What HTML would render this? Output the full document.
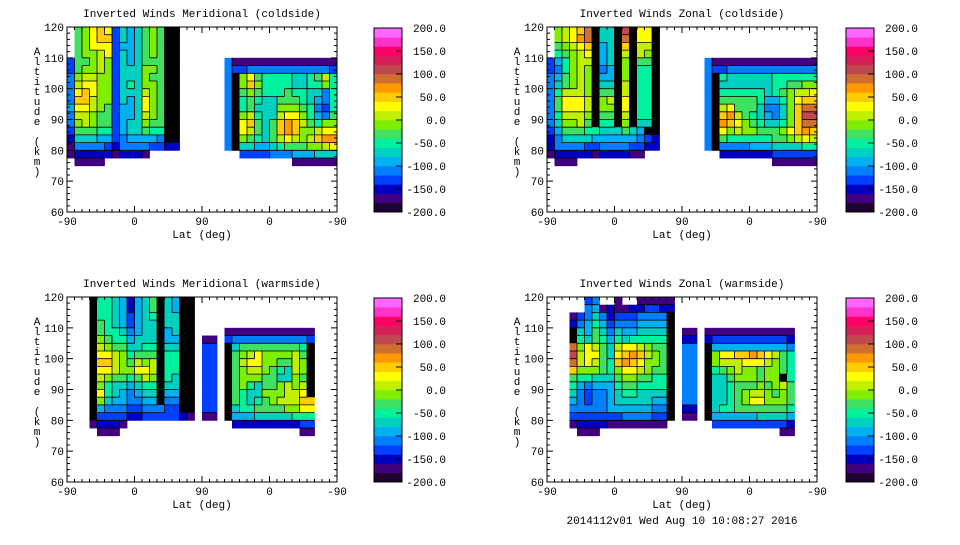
<!DOCTYPE html>
<html><head><meta charset="utf-8"><style>
body{margin:0;background:#fff;}
svg text{font-family:"Liberation Mono","DejaVu Sans Mono",monospace;font-size:11px;fill:#000;}
</style></head><body>
<svg id="root" width="960" height="540" viewBox="0 0 960 540" xmlns="http://www.w3.org/2000/svg"></svg>
<script>
// ---- data: altitude rows 120..75 km in 2.5 km steps, lat columns of 10 units over 0..360 ----
const levelChars = "0123456789abcdefghij";
const colorbarValues = [-200,-150,-100,-50,0,50,100,150,200];
const xTickLabels = ["-90","0","90","0","-90"];
const xTickUnits = [0,90,180,270,360];
const yTickLabels = [60,70,80,90,100,110,120];
const titles = ["Inverted Winds Meridional (coldside)","Inverted Winds Zonal (coldside)","Inverted Winds Meridional (warmside)","Inverted Winds Zonal (warmside)"];
const E6="......", E15="...............", E14="..............";
const merCold = [
".89bcb3656898kk"+E6+"."+E14,
".89bcc3656898kk"+E6+"."+E14,
".89bbb3556898kk"+E6+"."+E14,
".899ab3656898kk"+E6+"."+E14,
"3889a93656888kk"+E6+"4"+"11111111111111",
"3899a93666998kk"+E6+"4"+"33444444444443",
"49aa993666988kk"+E6+"4"+"k9b877776678a7",
"4abb993676998kk"+E6+"4"+"k9c97777667797",
"4bcb993666a98kk"+E6+"4"+"k8987778776647",
"4cca993656b98kk"+E6+"4"+"k7876688876547",
"5bba983556b98kk"+E6+"4"+"k7866699987437",
"4aa9883556a98kk"+E6+"4"+"k9a766abb97548",
"49a9883566988kk"+E6+"4"+"kbc868cdca8799",
"3888773566877kk"+E6+"4"+"kba868cdc99abb",
"2666553455554kk"+E6+"4"+"k98768aba9acdd",
"144443244443322"+E6+"4"+"k66556788899ab",
"12222212221...."+E6+"."+".3333444555666",
".1111.........."+E6+"."+"........111111"
];
const zonCold = [
".9abcek66kfkbbk"+E6+"."+E14,
".9abdek66kekbbk"+E6+"."+E14,
".89abck56kckaak"+E6+"."+E14,
".789abk56kaka9k"+E6+"."+E14,
"3579aak56k9k88k"+E6+"4"+"11111111111111",
"3479a9k45k9k77k"+E6+"4"+"33444444444444",
"4589a9k55k9k77k"+E6+"4"+"k7666666777777",
"4689a9k66kak77k"+E6+"4"+"k6666666778899",
"47aaa9k88kak77k"+E6+"4"+"k7777776789aab",
"48bbbak9akbk77k"+E6+"4"+"k8888875579bcc",
"48bbbak99kbk77k"+E6+"4"+"kab88864469cee",
"47aaa9k88kak77k"+E6+"4"+"kcda8765469cff",
"4699a8k77k9k66k"+E6+"4"+"kdcb9876679cee",
"3588877666865kk"+E6+"4"+"kb9a998889bcdc",
"246666555555432"+E6+"4"+"k8777777889aba",
"244443344443322"+E6+"4"+"k4444555666677",
"1222221222211.."+E6+"."+".2222222333333",
".111..........."+E6+"."+"........111111"
];
const merWarm = [
"..."+"k77652568k65kk"+"."+".."+"."+"............"+"...",
"..."+"k77652568k65kk"+"."+".."+"."+"............"+"...",
"..."+"k77653567k66kk"+"."+".."+"."+"............"+"...",
"..."+"k87653566k66kk"+"."+".."+"."+"............"+"...",
"..."+"k87764566k56kk"+"."+".."+"."+"111111111111"+"...",
"..."+"k98775666k55kk"+"."+"11"+"."+"344444444443"+"...",
"..."+"ka9886677k66kk"+"."+"33"+"."+"k6888888887k"+"...",
"..."+"kbba97888k77kk"+"."+"33"+"."+"k89ab9999a8k"+"...",
"..."+"kcca98a9ak77kk"+"."+"33"+"."+"k8abb9988a9k"+"...",
"..."+"kbba99bbak77kk"+"."+"33"+"."+"k89aa9876a9k"+"...",
"..."+"ka98878a9k76kk"+"."+"33"+"."+"k8999886698k"+"...",
"..."+"k97665677k66kk"+"."+"33"+"."+"k8976889a9ak"+"...",
"..."+"kb7654566k55kk"+"."+"33"+"."+"k8766999aabk"+"...",
"..."+"k96554455k44kk"+"."+"33"+"."+"k876789aaacc"+"...",
"..."+"k54443344433kk"+"."+"33"+"."+"k677888899bb"+"...",
"..."+"k3333223333321"+"."+"11"+"."+"k55566666777"+"...",
"..."+"12221........."+"."+".."+"."+".22222222233"+"...",
"..."+".111.........."+"."+".."+"."+"..........11"+"..."
];
const zonWarm = [
"..."+"..34..1..11111"+"."+".."+"."+"............"+"...",
"..."+"..451211223322"+"."+".."+"."+"............"+"...",
"..."+"1346423334444k"+"."+".."+"."+"............"+"...",
"..."+"2457534445555k"+"."+".."+"."+"............"+"...",
"..."+"k658646556666k"+"."+"11"+"."+"111111111111"+"...",
"..."+"k768757677777k"+"."+"22"+"."+"233333333332"+"...",
"..."+"e9ba86abba988k"+"."+"44"+"."+"k55555555554"+"...",
"..."+"fabb86bcdca98k"+"."+"44"+"."+"k9bbccdcba87"+"...",
"..."+"eaba87cdcb998k"+"."+"44"+"."+"k9aaabbba987"+"...",
"..."+"c999879bba988k"+"."+"44"+"."+"k789a9989987"+"...",
"..."+"8776668998877k"+"."+"44"+"."+"k668999899k7"+"...",
"..."+"7545557887777k"+"."+"44"+"."+"k667888989a8"+"...",
"..."+"6434456776666k"+"."+"44"+"."+"k66789aa9898"+"...",
"..."+"5434456666655k"+"."+"44"+"."+"k66789bb9998"+"...",
"..."+"4444455555544k"+"."+"22"+"."+"k67788888887"+"...",
"..."+"3333333444433k"+"."+"11"+"."+"k55555566665"+"...",
"..."+"1222211111111."+"."+".."+"."+".33333333332"+"...",
"..."+".111.........."+"."+".."+"."+"..........11"+"..."
];
const panelGrids = [merCold, zonCold, merWarm, zonWarm];

// ---- styling / layout ----
const palette = ["#200030","#400080","#0000c0","#0040ff","#0080ff","#00b0f0","#00d0c0","#00f0a0","#40e060","#80ee00","#c0f000","#ffff00","#ffcc00","#ff9900","#d07030","#c04850","#d82058","#ff0066","#ff33cc","#ff66ff"];
const NS="http://www.w3.org/2000/svg";
const root=document.getElementById('root');
function mk(tag,attrs,parent){const e=document.createElementNS(NS,tag);for(const k in attrs)e.setAttribute(k,attrs[k]);(parent||root).appendChild(e);return e;}
function colorFor(v){let i=Math.floor((v+200)/20);i=Math.max(0,Math.min(19,i));return palette[i];}
const panels=[{x0:67,y0:27,cb:374},{x0:547,y0:27,cb:846},{x0:67,y0:297,cb:374},{x0:547,y0:297,cb:846}];
const PW=270, PH=185;

panels.forEach((p,pi)=>{
  const g=mk('g',{});
  
  
  const xs=u=>p.x0+u*PW/360;
  const ys=a=>p.y0+(120-a)*PH/60;
  const grid=panelGrids[pi];
  const vals=grid.map(r=>r.split('').map(c=>c==='.'?null:(c==='k'?'k':-190+20*levelChars.indexOf(c))));
  const cells=mk('g',{},g);
  
  
  vals.forEach((row,r)=>{
    row.forEach((v,c)=>{
      if(v===null)return;
      const x=xs(c*10),y=ys(120-r*2.5);
      const rc=mk('rect',{x:x.toFixed(2),y:y.toFixed(2),width:(xs(10)-xs(0)+0.4).toFixed(2),height:(ys(117.5)-ys(120)+0.4).toFixed(2),fill:v==='k'?'#000':colorFor(v)},cells);
      
      
    });
  });
  // contour lines between differing cells
  let d='';
  vals.forEach((row,r)=>{
    row.forEach((v,c)=>{
      if(v===null||v==='k')return;
      const x=xs(c*10),y=ys(120-r*2.5),x2=xs(c*10+10),y2=ys(120-r*2.5-2.5);
      const rt=row[c+1]; if(rt!==undefined&&rt!==null&&rt!==v) d+=`M${x2.toFixed(1)} ${y.toFixed(1)}V${y2.toFixed(1)}`;
      const bt=vals[r+1]?vals[r+1][c]:undefined; if(bt!==undefined&&bt!==null&&bt!==v) d+=`M${x.toFixed(1)} ${y2.toFixed(1)}H${x2.toFixed(1)}`;
    });
  });
  const cl=mk('path',{d:d,stroke:'#000','stroke-width':'0.8',fill:'none'},g);
  
  
  // frame
  const fr=mk('rect',{x:p.x0,y:p.y0,width:PW,height:PH,fill:'none',stroke:'#000','stroke-width':'1'},g);
  
  
  // ticks
  let td='';
  for(let a=60;a<=120;a+=2){const y=ys(a),len=(a%10===0)?6:3;td+=`M${p.x0} ${y}h${len}M${p.x0+PW} ${y}h${-len}`;}
  for(let u=0;u<=360;u+=10){const x=xs(u),len=(u%90===0)?6:3;td+=`M${x} ${p.y0+PH}v${-len}M${x} ${p.y0}v${len}`;}
  const tk=mk('path',{d:td,stroke:'#000','stroke-width':'1',fill:'none'},g);
  
  
  yTickLabels.forEach(a=>{const t=mk('text',{x:p.x0-3,y:ys(a)+4,'text-anchor':'end'},g);t.textContent=a;
    
    });
  xTickUnits.forEach((u,i)=>{const t=mk('text',{x:xs(u),y:p.y0+PH+13,'text-anchor':'middle'},g);t.textContent=xTickLabels[i];
    
    });
  const xt=mk('text',{x:p.x0+PW/2,y:p.y0+PH+26,'text-anchor':'middle'},g);xt.textContent='Lat (deg)';
  
  
  const tt=mk('text',{x:p.x0+PW/2,y:p.y0-10,'text-anchor':'middle'},g);tt.textContent=titles[pi];
  
  
  const yl=mk('text',{x:p.x0-30,y:p.y0+20,'text-anchor':'start',style:'writing-mode:vertical-rl;text-orientation:upright;letter-spacing:-2px'},g);
  yl.textContent='Altitude (km)';
  
  
  // colorbar
  const cbg=mk('g',{},g);
  
  
  const cbTop=p.y0+1,cbH=184,cbW=28;
  const cy=v=>cbTop+(200-v)*cbH/400;
  for(let v=-200;v<200;v+=20){
    const r=mk('rect',{x:p.cb,y:cy(v+20).toFixed(2),width:cbW,height:(cy(v)-cy(v+20)+0.3).toFixed(2),fill:colorFor(v+10)},cbg);
    
    
  }
  mk('rect',{x:p.cb,y:cbTop,width:cbW,height:cbH,fill:'none',stroke:'#000','stroke-width':'1'},cbg);
  colorbarValues.forEach(v=>{
    mk('path',{d:`M${p.cb+cbW} ${cy(v)}h-6`,stroke:'#000'},cbg);
    const t=mk('text',{x:p.cb+72,y:cy(v)+4,'text-anchor':'end'},cbg);t.textContent=v.toFixed(1);
    
    
  });
});
const ft=mk('text',{x:682,y:524,'text-anchor':'middle'});
ft.textContent='2014112v01 Wed Aug 10 10:08:27 2016';


</script>
</body></html>
